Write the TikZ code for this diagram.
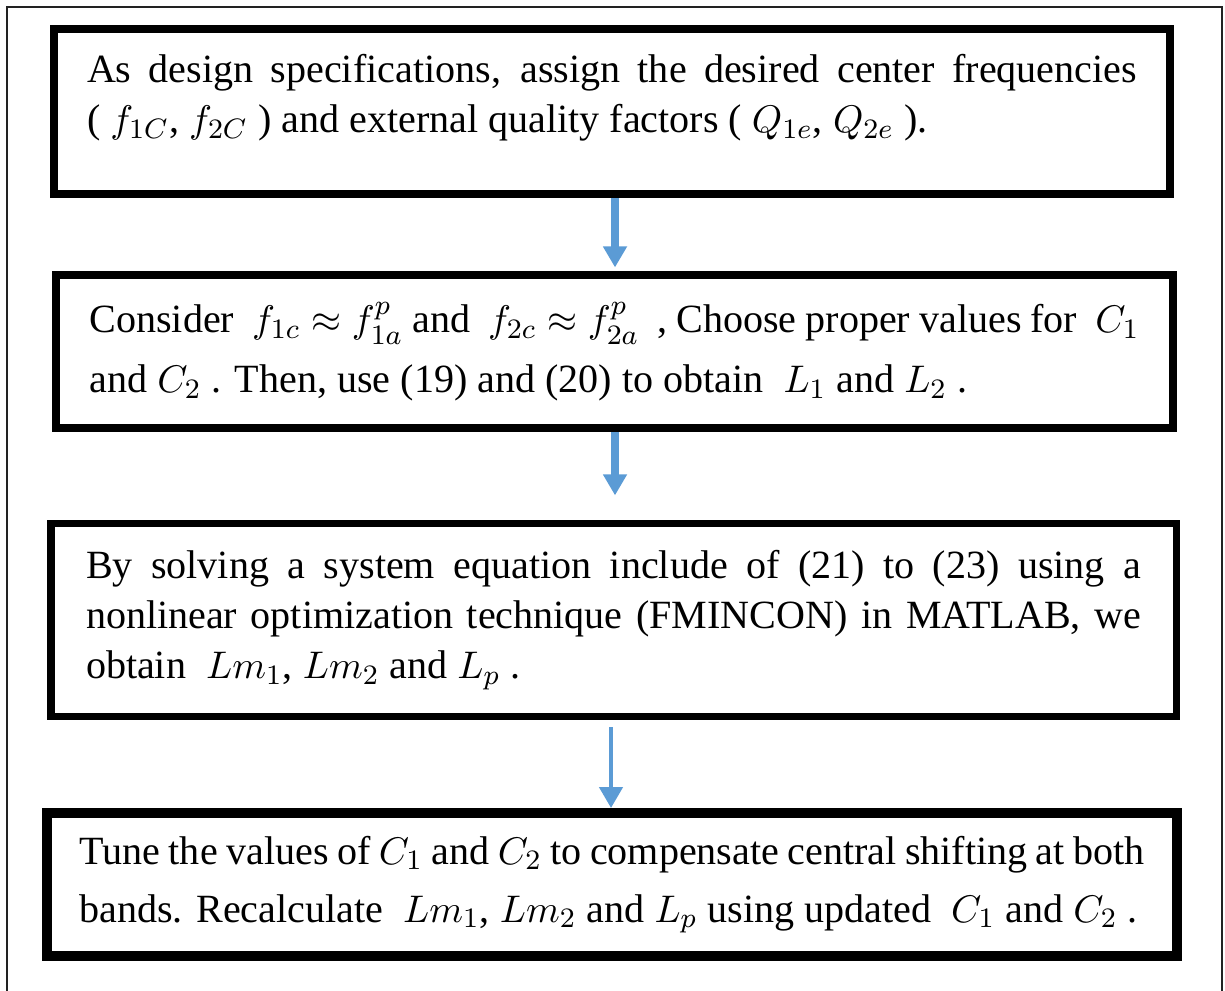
\documentclass[tikz,border=0pt]{standalone}
\usepackage{amsmath, amssymb}
\usepackage{fontspec}
\setmainfont{Liberation Serif}
\usetikzlibrary{arrows.meta, positioning, calc}
\definecolor{flowc}{HTML}{5B9BD5}
\definecolor{framec}{HTML}{222222}

\begin{document}
\begin{tikzpicture}[>=Stealth, font=\fontsize{11.4}{14.2}\selectfont,
      stepbox/.style={draw, line width=2.3pt, align=justify, inner sep=0pt},
      flow/.style={-{Triangle[width=6.5pt, length=6pt]}, flowc, line width=2.2pt}]
    \useasboundingbox (0,0) rectangle (12.25,-9.9);
    % thin outer frame, open at the bottom
    \draw[framec, line width=0.6pt] (0.07,-9.95) |- (12.22,-0.07) -- (12.22,-9.95);

    \node[stepbox, text width=10.5cm, minimum width=11.16cm, minimum height=1.65cm,
          text depth=0.86cm]
      (spec) at (6.12,-1.115)
      {As design specifications, assign the desired center frequencies\linebreak
       ( $f_{1C}$, $f_{2C}$ ) and external quality factors ( $Q_{1e}$, $Q_{2e}$ ).};
    \node[stepbox, text width=10.5cm, minimum width=11.17cm, minimum height=1.53cm,
          font=\fontsize{11.4}{17}\selectfont]
      (init) at (6.145,-3.515)
      {Consider \ $f_{1c} \approx f_{1a}^{p}$ and \ $f_{2c} \approx f_{2a}^{p}$ \ , Choose proper values for \ $C_1$\linebreak
       and $C_2$ . Then, use (19) and (20) to obtain \ $L_1$ and $L_2$ .};
    \node[stepbox, line width=2pt, text width=10.55cm, minimum width=11.25cm, minimum height=1.93cm]
      (opt) at (6.135,-6.2)
      {By solving a system equation include of (21) to (23) using a\linebreak
       nonlinear optimization technique (FMINCON) in MATLAB, we\linebreak
       obtain \ $Lm_1$, $Lm_2$ and $L_p$ .};
    \node[stepbox, line width=2.8pt, text width=10.65cm, minimum width=11.3cm, minimum height=1.43cm,
          font=\fontsize{11.4}{16.5}\selectfont]
      (tune) at (6.12,-8.845)
      {Tune the values of $C_1$ and $C_2$ to compensate central shifting at both\linebreak
       bands. Recalculate \ $Lm_1$, $Lm_2$ and $L_p$ using updated \ $C_1$ and $C_2$ .};

    \draw[flow, shorten >=1pt] ($(spec.south)+(0.03,0)$) -- ($(spec.south |- init.north)+(0.03,0)$);
    \draw[flow, shorten >=7pt] ($(init.south)+(0.005,0)$) -- ($(init.south |- opt.north)+(0.005,0)$);
    \draw[flow, line width=1.4pt, shorten <=2pt] ($(opt.south)+(-0.025,0)$) -- ($(opt.south |- tune.north)+(-0.025,0)$);
  \end{tikzpicture}
\end{document}
